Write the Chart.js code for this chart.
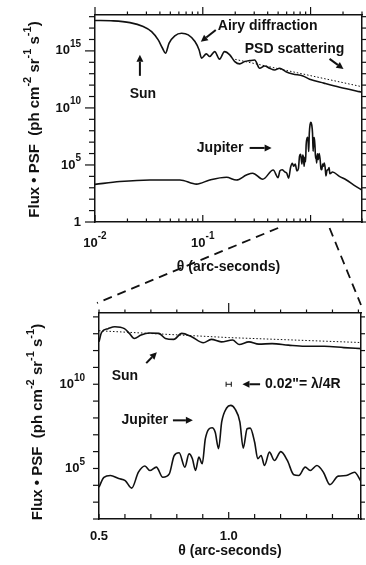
<!DOCTYPE html>
<html lang="en">
<head>
<meta charset="UTF-8">
<title>Flux x PSF: Sun and Jupiter</title>
<script src="https://cdn.jsdelivr.net/npm/chart.js@4.4.0/dist/chart.umd.min.js"></script>
<style>
    body { margin: 0; background: #fff; }
    .wrap { position: relative; width: 366px; height: 565px; }
    #topBox { position: absolute; left: 0; top: 0; width: 366px; height: 280px; }
    #zoomBox { position: absolute; left: 0; top: 280px; width: 366px; height: 285px; }
    #links { position: absolute; left: 0; top: 0; pointer-events: none; }
</style>
</head>
<body>
<div class="wrap">
    <div id="topBox"><canvas id="topChart"></canvas></div>
    <div id="zoomBox"><canvas id="zoomChart"></canvas></div>
    <canvas id="links" width="366" height="565"></canvas>
</div>

<script>
    // ---- top panel, log-log (theta in arc-seconds, flux*PSF) ----
    const sunTheta = [0.01, 0.0148, 0.0211, 0.028, 0.0335, 0.0386, 0.0423, 0.0451, 0.0487, 0.055, 0.0636, 0.0733,
        0.0846, 0.0925, 0.0973, 0.108, 0.116, 0.129, 0.143, 0.159, 0.178, 0.198, 0.22, 0.245, 0.273, 0.303,
        0.337, 0.375, 0.417, 0.464, 0.516, 0.592, 0.684, 0.85, 0.98, 1.33, 1.86, 2.83, 3.0];
    const sunFlux = [4.6e17, 4.3e17, 3.0e17, 1.35e17, 4.9e16, 9.1e15, 1.7e15, 6.3e14, 4.8e15, 2.1e16, 3.5e16, 2.5e16,
        6.6e15, 1.2e15, 2.3e14, 5.5e14, 3.2e14, 8.7e14, 1.9e14, 8.7e14, 4.5e14, 1.15e14, 7.2e13, 1.15e14, 1.4e14, 1.6e14,
        3.0e13, 4.8e13, 3.0e13, 2.1e13, 3.0e13, 1.5e13, 9.5e12, 6.3e12, 3.3e12, 1.5e12, 6.6e11, 2.7e11, 2.4e11];
    const psdTheta = [0.2, 3.0];
    const psdFlux = [1.8e14, 7.2e11];
    const jupiterInnerTheta = [0.01, 0.017, 0.0323, 0.0613, 0.0874, 0.116, 0.166, 0.205, 0.254, 0.29, 0.36, 0.45];
    const jupiterInnerFlux = [2000, 3500, 4800, 4800, 2100, 4800, 8300, 4800, 1.3e4, 1.9e4, 5600, 3.6e4];
    const jupiterOuterTheta = [1.6, 1.85, 2.15, 2.5, 3.0];
    const jupiterOuterFlux = [2.4e4, 1.0e4, 4800, 1800, 630];

    // ---- bottom panel, zoom 0.5" - 1.5" (linear theta) ----
    const jupiterZoomTheta = [0.5, 0.519, 0.544, 0.576, 0.601, 0.626, 0.652, 0.677, 0.696, 0.721, 0.746, 0.771,
        0.79, 0.809, 0.831, 0.847, 0.86, 0.872, 0.885, 0.898, 0.91, 0.936, 0.948, 0.961, 0.973, 0.992, 1.008,
        1.024, 1.043, 1.056, 1.071, 1.083, 1.1, 1.112, 1.125, 1.138, 1.157, 1.176, 1.201, 1.226, 1.251, 1.27,
        1.295, 1.314, 1.34, 1.365, 1.39, 1.422, 1.453, 1.485, 1.51];
    const jupiterZoomFlux = [7800, 3.0e4, 3.8e4, 2.5e4, 1.9e4, 6800, 6.0e4, 1.4e5, 7.6e4, 1.2e5, 3.0e4, 4.8e4,
        5.9e5, 8.5e5, 1.2e5, 7.4e5, 3.8e5, 7.6e4, 4.7e5, 1.9e5, 5.9e6, 2.6e7, 1.4e7, 1.5e6, 5.8e7, 3.9e8, 5.6e8,
        3.5e8, 5.8e7, 1.6e6, 2.3e7, 2.5e7, 3.6e6, 3.8e5, 5.9e5, 1.5e5, 9.3e5, 3.0e5, 1.0e6, 3.0e5, 4.2e4, 3.8e4,
        1.2e5, 7.6e4, 1.5e5, 6.0e4, 1.1e4, 3.5e4, 3.8e4, 6.0e4, 1.7e4];
    const sunZoomTheta = [0.5, 0.51, 0.535, 0.561, 0.598, 0.617, 0.636, 0.662, 0.693, 0.731, 0.756, 0.788, 0.819,
        0.857, 0.902, 0.933, 0.971, 1.015, 1.04, 1.078, 1.116, 1.167, 1.23, 1.293, 1.369, 1.444, 1.51];
    const sunZoomFlux = [3.3e12, 1.2e13, 2.0e13, 2.6e13, 2.0e13, 1.05e13, 5.2e12, 8.3e12, 1.1e13, 1.05e13, 5.2e12,
        4.6e12, 1.05e13, 6.6e12, 2.9e12, 4.6e12, 3.3e12, 4.2e12, 2.3e12, 3.3e12, 2.4e12, 2.6e12, 2.1e12, 1.8e12,
        1.8e12, 1.5e12, 1.3e12];
    const psdZoomTheta = [0.5, 1.0, 1.51];
    const psdZoomFlux = [1.5e13, 5.9e12, 3.0e12];
    const barTheta = [0.99, 1.01];   // 0.02" = lambda/4R
    const barFlux = [1e10, 1e10];

    // ---- ticks ----
    const topXTicks = [0.01, 0.02, 0.03, 0.04, 0.05, 0.06, 0.07, 0.08, 0.09, 0.1, 0.2, 0.3, 0.4, 0.5, 0.6, 0.7, 0.8, 0.9, 1, 2, 3];
    const topXMajor = [0.01, 0.1, 1];
    const topXLabelValues = [0.01, 0.1];
    const topXLabels = ['10^-2', '10^-1'];
    const topYTicks = [1, 1e1, 1e2, 1e3, 1e4, 1e5, 1e6, 1e7, 1e8, 1e9, 1e10, 1e11, 1e12, 1e13, 1e14, 1e15, 1e16, 1e17, 1e18];
    const topYLabelValues = [1, 1e5, 1e10, 1e15];
    const topYLabels = ['1', '10^5', '10^10', '10^15'];
    const zoomXTicks = [0.5, 0.6, 0.7, 0.8, 0.9, 1.0, 1.1, 1.2, 1.3, 1.4, 1.5];
    const zoomXMajor = [1.0];
    const zoomXLabelValues = [0.5, 1.0];
    const zoomXLabels = ['0.5', '1.0'];
    const zoomYTicks = [1e2, 1e3, 1e4, 1e5, 1e6, 1e7, 1e8, 1e9, 1e10, 1e11, 1e12, 1e13, 1e14];
    const zoomYLabelValues = [1e5, 1e10];
    const zoomYLabels = ['10^5', '10^10'];

    const yTitle = 'Flux \u2022 PSF  (ph cm^-2 sr^-1 s^-1)';
    const xTitle = '\u03B8 (arc-seconds)';
    const zoomRange = [0.5, 1.5];

    const ink = '#111';
    const FONT = '"Liberation Sans", Arial, sans-serif';
    Chart.defaults.font.family = FONT;

    function pts(xs, ys) {
        return xs.map((x, i) => ({ x: x, y: ys[i] }));
    }

    // text with ^exponent parts drawn as superscripts
    function richText(ctx, str, x, y, align, size) {
        const parts = str.split(/(\^-?\d+)/).filter(s => s.length);
        const big = 'bold ' + size + 'px ' + FONT;
        const small = 'bold ' + Math.round(size * 0.75) + 'px ' + FONT;
        let w = 0;
        parts.forEach(p => {
            const sup = p[0] === '^';
            ctx.font = sup ? small : big;
            w += ctx.measureText(sup ? p.slice(1) : p).width;
        });
        let cx = align === 'right' ? x - w : (align === 'center' ? x - w / 2 : x);
        ctx.textAlign = 'left';
        ctx.textBaseline = 'middle';
        parts.forEach(p => {
            const sup = p[0] === '^';
            const t = sup ? p.slice(1) : p;
            ctx.font = sup ? small : big;
            ctx.fillText(t, cx, sup ? y - size * 0.5 : y);
            cx += ctx.measureText(t).width;
        });
    }

    function seg(ctx, x1, y1, x2, y2) {
        ctx.beginPath();
        ctx.moveTo(x1, y1);
        ctx.lineTo(x2, y2);
        ctx.stroke();
    }

    function arrow(ctx, x1, y1, x2, y2) {
        const ang = Math.atan2(y2 - y1, x2 - x1);
        const hl = 7, hw = 3.5;
        const bx = x2 - hl * Math.cos(ang), by = y2 - hl * Math.sin(ang);
        ctx.lineWidth = 2;
        seg(ctx, x1, y1, bx, by);
        ctx.beginPath();
        ctx.moveTo(x2, y2);
        ctx.lineTo(bx + hw * Math.sin(ang), by - hw * Math.cos(ang));
        ctx.lineTo(bx - hw * Math.sin(ang), by + hw * Math.cos(ang));
        ctx.closePath();
        ctx.fill();
    }

    // ticks, tick labels, axis titles and notes for one panel
    function panelDecor(cfg) {
        return {
            id: 'panelDecor',
            afterDraw(chart) {
                const ctx = chart.ctx, a = chart.chartArea;
                const xs = chart.scales.x, ys = chart.scales.y;
                ctx.save();
                ctx.strokeStyle = ink;
                ctx.fillStyle = ink;
                ctx.lineWidth = 1.2;
                cfg.xTicks.forEach(v => {
                    const px = xs.getPixelForValue(v);
                    const major = cfg.xMajor.includes(v);
                    seg(ctx, px, a.bottom, px, a.bottom - (major ? 7 : cfg.xInMinor));
                    seg(ctx, px, a.top, px, a.top - (major ? cfg.xTopMajor : 3.5));
                });
                cfg.yTicks.forEach(v => {
                    const py = ys.getPixelForValue(v);
                    const major = cfg.yLabelValues.includes(v);
                    seg(ctx, a.left, py, a.left - (major ? cfg.yMajor : cfg.yMinor), py);
                    seg(ctx, a.right, py, a.right + 4, py);
                });
                cfg.xLabelValues.forEach((v, i) => {
                    richText(ctx, cfg.xLabels[i], xs.getPixelForValue(v), a.bottom + cfg.xLabelGap, 'center', 13);
                });
                cfg.yLabelValues.forEach((v, i) => {
                    richText(ctx, cfg.yLabels[i], a.left - cfg.yLabelGap, ys.getPixelForValue(v), 'right', 13);
                });
                richText(ctx, xTitle, (a.left + a.right) / 2, a.bottom + cfg.xTitleGap, 'center', 14);
                ctx.save();
                ctx.translate(cfg.yTitleX, (a.top + a.bottom) / 2 + cfg.yTitleShift);
                ctx.rotate(-Math.PI / 2);
                richText(ctx, yTitle, 0, 0, 'center', 15);
                ctx.restore();
                cfg.notes.forEach(n => {
                    if (n.arrow) {
                        arrow(ctx, xs.getPixelForValue(n.arrow[0]), ys.getPixelForValue(n.arrow[1]),
                            xs.getPixelForValue(n.arrow[2]), ys.getPixelForValue(n.arrow[3]));
                    } else {
                        richText(ctx, n.text, xs.getPixelForValue(n.x), ys.getPixelForValue(n.y), n.align, 14);
                    }
                });
                ctx.restore();
            }
        };
    }

    function frameAxis(type, position, min, max, size) {
        return {
            type: type,
            position: position,
            min: min,
            max: max,
            grid: { display: false },
            ticks: { display: false },
            border: { display: true, color: ink, width: 1.5 },
            afterFit: function (s) {
                if (position === 'left' || position === 'right') s.width = size; else s.height = size;
            }
        };
    }

    function curve(xs, ys) {
        return {
            data: pts(xs, ys),
            borderColor: ink,
            borderWidth: 1.6,
            pointRadius: 0,
            cubicInterpolationMode: 'monotone'
        };
    }

    function dotted(xs, ys) {
        return {
            data: pts(xs, ys),
            borderColor: ink,
            borderWidth: 1,
            borderDash: [1.5, 2],
            pointRadius: 0
        };
    }

    const commonOptions = {
        responsive: true,
        maintainAspectRatio: false,
        animation: false,
        devicePixelRatio: 1,
        layout: { padding: 0 },
        plugins: { legend: { display: false }, tooltip: { enabled: false } }
    };

    // 上段: log-log
    const topChart = new Chart(
        document.getElementById('topChart'),
        {
            type: 'line',
            data: {
                datasets: [
                    curve(sunTheta, sunFlux),
                    dotted(psdTheta, psdFlux),
                    curve(jupiterInnerTheta.concat(jupiterZoomTheta, jupiterOuterTheta),
                        jupiterInnerFlux.concat(jupiterZoomFlux, jupiterOuterFlux))
                ]
            },
            options: Object.assign({}, commonOptions, {
                scales: {
                    x: frameAxis('logarithmic', 'bottom', 0.01, 3, 58),
                    x2: frameAxis('logarithmic', 'top', 0.01, 3, 15),
                    y: frameAxis('logarithmic', 'left', 1, 1.4e18, 95),
                    y2: frameAxis('logarithmic', 'right', 1, 1.4e18, 4)
                }
            }),
            plugins: [panelDecor({
                xTicks: topXTicks, xMajor: topXMajor, xInMinor: 3.5, xTopMajor: 8,
                xLabelValues: topXLabelValues, xLabels: topXLabels, xLabelGap: 21,
                yTicks: topYTicks, yLabelValues: topYLabelValues, yLabels: topYLabels,
                yMajor: 10, yMinor: 6, yLabelGap: 14,
                xTitleGap: 45, yTitleX: 35, yTitleShift: 1,
                notes: [
                    { text: 'Airy diffraction', x: 0.138, y: 1.6e17, align: 'left' },
                    { arrow: [0.132, 6.9e16, 0.0958, 6.2e15] },
                    { text: 'PSD scattering', x: 0.245, y: 1.5e15, align: 'left' },
                    { arrow: [1.5, 2.0e14, 2.02, 2.6e13] },
                    { arrow: [0.0261, 6.5e12, 0.0261, 4.5e14] },
                    { text: 'Sun', x: 0.0278, y: 1.7e11, align: 'center' },
                    { text: 'Jupiter', x: 0.088, y: 3.1e6, align: 'left' },
                    { arrow: [0.272, 3.1e6, 0.435, 3.1e6] }
                ]
            })]
        }
    );

    // 下段: 0.5" - 1.5" zoom
    const barSet = {
        data: pts(barTheta, barFlux),
        borderColor: ink,
        borderWidth: 1,
        pointStyle: 'line',
        pointRadius: 2.5,
        pointRotation: 90,
        pointBorderWidth: 1,
        pointBorderColor: ink
    };
    const zoomChart = new Chart(
        document.getElementById('zoomChart'),
        {
            type: 'line',
            data: {
                datasets: [
                    curve(sunZoomTheta, sunZoomFlux),
                    dotted(psdZoomTheta, psdZoomFlux),
                    curve(jupiterZoomTheta, jupiterZoomFlux),
                    barSet
                ]
            },
            options: Object.assign({}, commonOptions, {
                scales: {
                    x: frameAxis('linear', 'bottom', 0.5, 1.51, 46),
                    x2: frameAxis('linear', 'top', 0.5, 1.51, 33),
                    y: frameAxis('logarithmic', 'left', 1e2, 1.7e14, 99),
                    y2: frameAxis('logarithmic', 'right', 1e2, 1.7e14, 1)
                }
            }),
            plugins: [panelDecor({
                xTicks: zoomXTicks, xMajor: zoomXMajor, xInMinor: 5, xTopMajor: 10,
                xLabelValues: zoomXLabelValues, xLabels: zoomXLabels, xLabelGap: 17,
                yTicks: zoomYTicks, yLabelValues: zoomYLabelValues, yLabels: zoomYLabels,
                yMajor: 6, yMinor: 6, yLabelGap: 14,
                xTitleGap: 32, yTitleX: 38, yTitleShift: 6,
                notes: [
                    { text: 'Sun', x: 0.549, y: 3.0e10, align: 'left' },
                    { arrow: [0.682, 1.8e11, 0.723, 7.9e11] },
                    { text: 'Jupiter', x: 0.587, y: 7.2e7, align: 'left' },
                    { arrow: [0.785, 7.2e7, 0.862, 7.2e7] },
                    { arrow: [1.121, 1e10, 1.053, 1e10] },
                    { text: '0.02"= \u03BB/4R', x: 1.14, y: 1e10, align: 'left' }
                ]
            })]
        }
    );

    // dashed zoom lines between the panels
    function drawLinks() {
        const ctx = document.getElementById('links').getContext('2d');
        const ta = topChart.chartArea, za = zoomChart.chartArea;
        const off = document.getElementById('zoomBox').offsetTop;
        const xl = topChart.scales.x.getPixelForValue(zoomRange[0]);
        const xr = topChart.scales.x.getPixelForValue(zoomRange[1]);
        ctx.clearRect(0, 0, 366, 565);
        ctx.strokeStyle = ink;
        ctx.lineWidth = 1.8;
        ctx.setLineDash([9, 6]);
        seg(ctx, xl, ta.bottom + 6, za.left - 2, off + za.top - 10);
        seg(ctx, xr, ta.bottom + 6, za.right, off + za.top - 8);
    }
    drawLinks();
</script>
</body>
</html>
